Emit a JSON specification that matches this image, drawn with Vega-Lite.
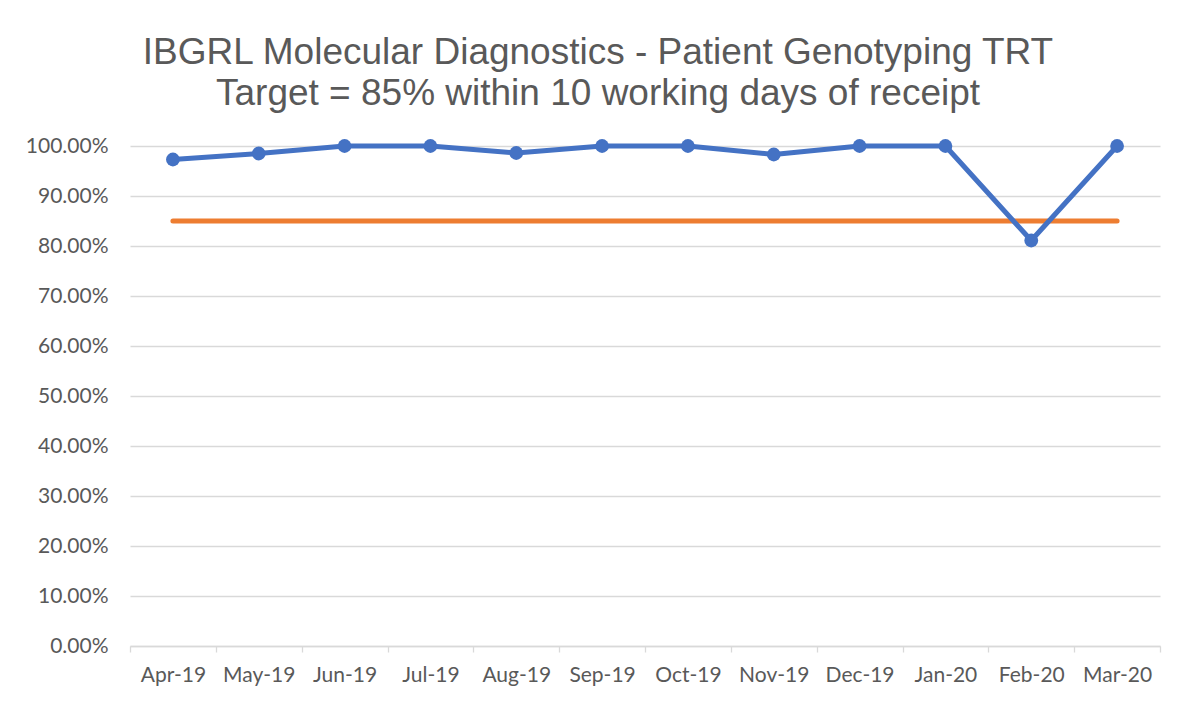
{
  "$schema": "https://vega.github.io/schema/vega-lite/v6.json",
  "width": 1030,
  "height": 500,
  "autosize": "none",
  "padding": {"left": 130, "top": 146, "right": 23, "bottom": 56},
  "background": "white",
  "title": {
    "text": ["IBGRL Molecular Diagnostics - Patient Genotyping TRT", "Target = 85% within 10 working days of receipt"],
    "anchor": "middle",
    "frame": "group",
    "dx": -47,
    "dy": 48,
    "offset": 33,
    "baseline": "bottom",
    "lineHeight": 41,
    "font": "Liberation Sans",
    "fontSize": 37,
    "fontWeight": "normal",
    "color": "#595959"
  },
  "data": {
    "values": [
      {"month": "Apr-19", "trt": 0.973, "target": 0.85},
      {"month": "May-19", "trt": 0.985, "target": 0.85},
      {"month": "Jun-19", "trt": 1.0, "target": 0.85},
      {"month": "Jul-19", "trt": 1.0, "target": 0.85},
      {"month": "Aug-19", "trt": 0.986, "target": 0.85},
      {"month": "Sep-19", "trt": 1.0, "target": 0.85},
      {"month": "Oct-19", "trt": 1.0, "target": 0.85},
      {"month": "Nov-19", "trt": 0.983, "target": 0.85},
      {"month": "Dec-19", "trt": 1.0, "target": 0.85},
      {"month": "Jan-20", "trt": 1.0, "target": 0.85},
      {"month": "Feb-20", "trt": 0.811, "target": 0.85},
      {"month": "Mar-20", "trt": 1.0, "target": 0.85}
    ]
  },
  "encoding": {
    "x": {
      "field": "month",
      "type": "nominal",
      "sort": null,
      "scale": {"type": "band", "paddingInner": 0, "paddingOuter": 0},
      "axis": {
        "title": null,
        "labelAngle": 0,
        "labelFont": "Lato",
        "labelFontSize": 21,
        "labelColor": "#595959",
        "labelPadding": 12,
        "domainColor": "#D9D9D9",
        "domainWidth": 1.3,
        "tickColor": "#D9D9D9",
        "tickWidth": 1.3,
        "tickSize": 6,
        "tickBand": "extent",
        "grid": false
      }
    }
  },
  "layer": [
    {
      "mark": {"type": "line", "color": "#ED7D31", "strokeWidth": 5, "strokeCap": "round"},
      "encoding": {
        "y": {
          "field": "target",
          "type": "quantitative",
          "scale": {"domain": [0, 1], "nice": false},
          "axis": {
            "title": null,
            "values": [0, 0.1, 0.2, 0.3, 0.4, 0.5, 0.6, 0.7, 0.8, 0.9, 1.0],
            "format": ".2%",
            "labelFont": "Lato",
            "labelFontSize": 21,
            "labelColor": "#595959",
            "labelPadding": 22,
            "domain": false,
            "ticks": false,
            "grid": true,
            "gridColor": "#D9D9D9",
            "gridWidth": 1.3
          }
        }
      }
    },
    {
      "mark": {"type": "line", "color": "#4472C4", "strokeWidth": 5, "strokeJoin": "round"},
      "encoding": {"y": {"field": "trt", "type": "quantitative"}}
    },
    {
      "mark": {"type": "point", "filled": true, "color": "#4472C4", "size": 190, "opacity": 1},
      "encoding": {"y": {"field": "trt", "type": "quantitative"}}
    }
  ],
  "config": {"view": {"stroke": null}}
}
